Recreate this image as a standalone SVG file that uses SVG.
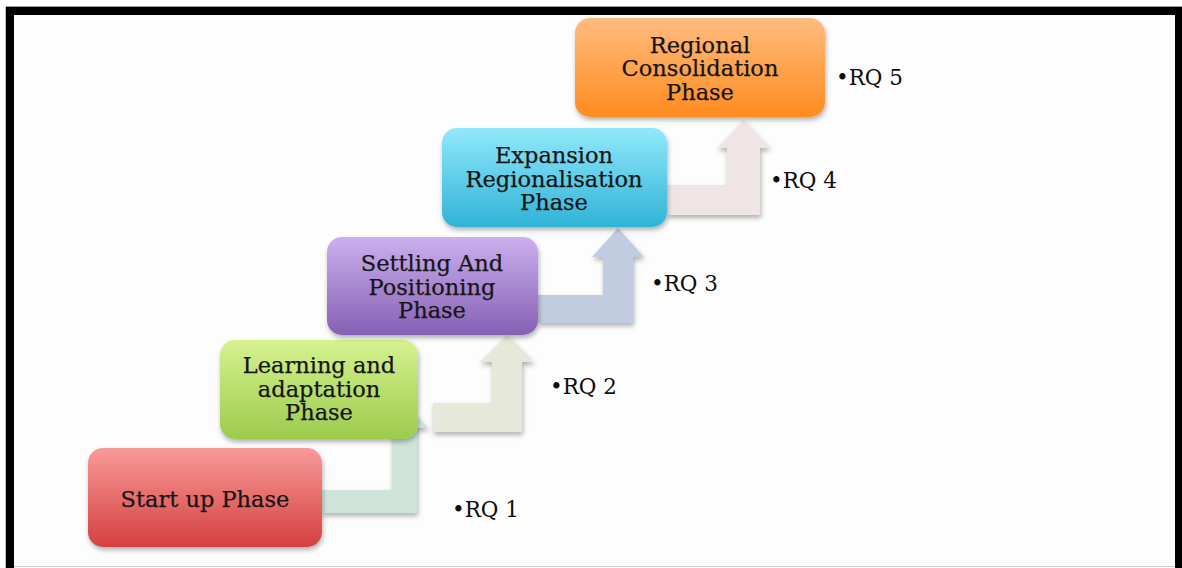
<svg xmlns="http://www.w3.org/2000/svg" width="1182" height="568" viewBox="0 0 1182 568">
<defs>
<linearGradient id="gRed" x1="0" y1="0" x2="0" y2="1"><stop offset="0" stop-color="#f89a9a"/><stop offset="1" stop-color="#d4403e"/></linearGradient>
<linearGradient id="gGreen" x1="0" y1="0" x2="0" y2="1"><stop offset="0" stop-color="#d6f290"/><stop offset="1" stop-color="#9ccb4c"/></linearGradient>
<linearGradient id="gPurple" x1="0" y1="0" x2="0" y2="1"><stop offset="0" stop-color="#cbb0ee"/><stop offset="1" stop-color="#8660b4"/></linearGradient>
<linearGradient id="gCyan" x1="0" y1="0" x2="0" y2="1"><stop offset="0" stop-color="#92e8fb"/><stop offset="1" stop-color="#2fb3d7"/></linearGradient>
<linearGradient id="gOrange" x1="0" y1="0" x2="0" y2="1"><stop offset="0" stop-color="#ffbc80"/><stop offset="1" stop-color="#ff8b1e"/></linearGradient>
<filter id="sh" x="-10%" y="-10%" width="125%" height="130%"><feDropShadow dx="1" dy="3" stdDeviation="2.5" flood-color="#000" flood-opacity="0.3"/></filter>
</defs>
<style>
.box{filter:url(#sh)}
.lbl{font-family:"DejaVu Serif",serif;font-size:22.5px;fill:#161616;text-anchor:middle;stroke:#161616;stroke-width:0.25}
.rq{font-family:"DejaVu Serif",serif;font-size:21.5px;fill:#0e0e0e}
.arr{filter:url(#sh)}
</style>
<rect x="0" y="0" width="1182" height="568" fill="#ffffff"/>
<g id="frame">
<rect x="14" y="15" width="1161" height="553" fill="#fdfdfd"/>
<rect x="6" y="7" width="1176" height="8" fill="#000"/>
<rect x="6" y="7" width="8" height="561" fill="#000"/>
<rect x="1175" y="7" width="7" height="561" fill="#000"/>
<line x1="5.5" y1="7" x2="5.5" y2="568" stroke="#bbb" stroke-width="1"/>
<line x1="6" y1="6.5" x2="1182" y2="6.5" stroke="#999" stroke-width="1"/>
<line x1="14" y1="566.5" x2="1175" y2="566.5" stroke="#ccc" stroke-width="1"/>
</g>
<g id="connectors">
<path class="arr" d="M322,490 H392 V428 H380 L404.5,405 L429,428 H417 V513 H322 Z" fill="#cfe5da"/>
<path class="arr" d="M433,403 H492 V362 H480 L507,335 L534,362 H522 V432 H433 Z" fill="#e6e9d9"/>
<path class="arr" d="M538,295 H603 V257 H592 L618,228 L644,257 H633 V323 H538 Z" fill="#c2cce0"/>
<path class="arr" d="M667,185 H727 V148 H717 L743.5,120 L770,148 H760 V215 H667 Z" fill="#efe5e4"/>
</g>
<g id="n1">
<rect class="box" x="88" y="448" width="234" height="99" rx="15" fill="url(#gRed)"/>
<text class="lbl" x="205" y="507">Start up Phase</text>
</g>
<g id="n2">
<rect class="box" x="220" y="340" width="198" height="99" rx="15" fill="url(#gGreen)"/>
<text class="lbl" x="319" y="373">Learning and<tspan x="319" dy="23.5">adaptation</tspan><tspan x="319" dy="23.5">Phase</tspan></text>
</g>
<g id="n3">
<rect class="box" x="327" y="237" width="211" height="98" rx="15" fill="url(#gPurple)"/>
<text class="lbl" x="432" y="271">Settling And<tspan x="432" dy="23.5">Positioning</tspan><tspan x="432" dy="23.5">Phase</tspan></text>
</g>
<g id="n4">
<rect class="box" x="442" y="128" width="225" height="99" rx="15" fill="url(#gCyan)"/>
<text class="lbl" x="554" y="163">Expansion<tspan x="554" dy="23.5">Regionalisation</tspan><tspan x="554" dy="23.5">Phase</tspan></text>
</g>
<g id="n5">
<rect class="box" x="575" y="18" width="250" height="99" rx="15" fill="url(#gOrange)"/>
<text class="lbl" x="700" y="52.5">Regional<tspan x="700" dy="23.5">Consolidation</tspan><tspan x="700" dy="23.5">Phase</tspan></text>
</g>
<g id="rq">
<text class="rq" x="452" y="517">•RQ 1</text>
<text class="rq" x="550" y="394">•RQ 2</text>
<text class="rq" x="651" y="291">•RQ 3</text>
<text class="rq" x="770" y="188">•RQ 4</text>
<text class="rq" x="836" y="85">•RQ 5</text>
</g>
</svg>
